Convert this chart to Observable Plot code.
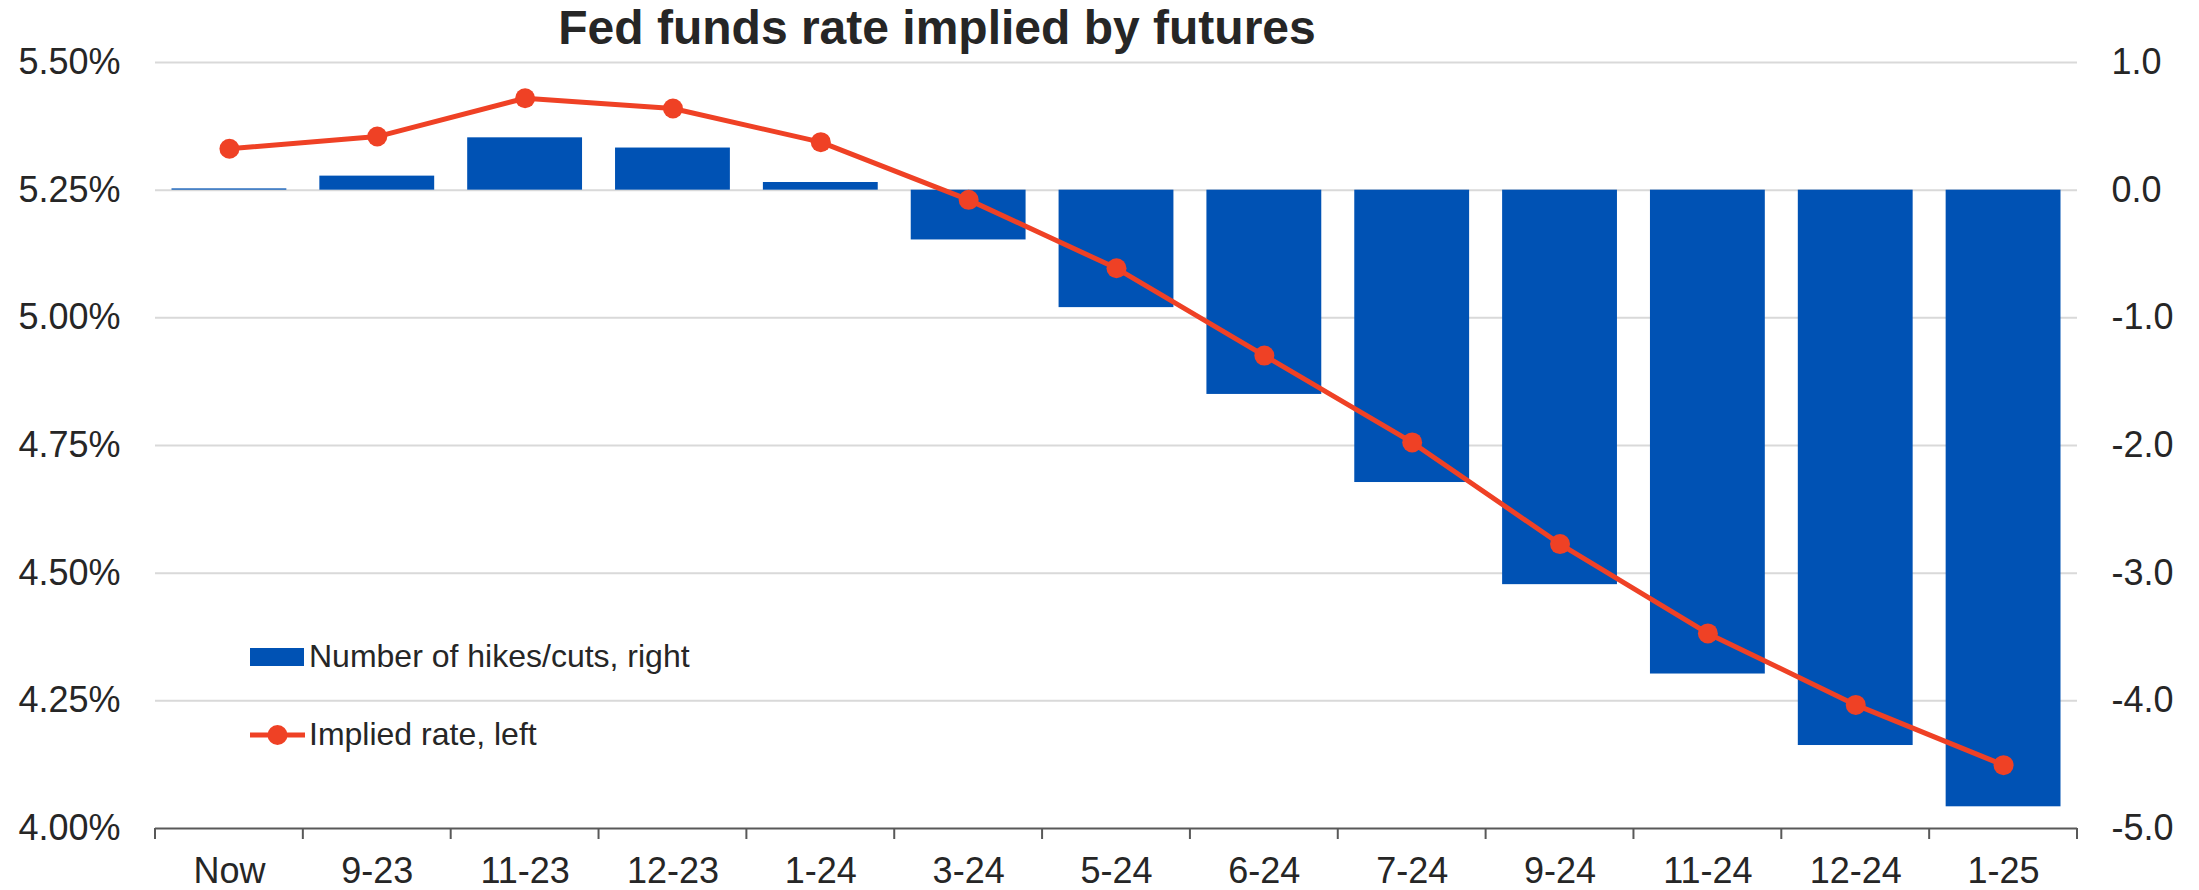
<!DOCTYPE html>
<html>
<head>
<meta charset="utf-8">
<script src="https://cdn.jsdelivr.net/npm/d3@7"></script>
<script src="https://cdn.jsdelivr.net/npm/@observablehq/plot@0.6"></script>
<style>
  body { margin: 0; background: #fff; font-family: "Liberation Sans", Arial, sans-serif; }
  #wrap { position: relative; width: 2199px; height: 890px; overflow: hidden; }
  #chart { position: absolute; left: 0; top: 0; }
  #title {
    position: absolute; left: 0; top: 0;
    width: 1874px; height: 56px; line-height: 56px; text-align: center;
    font-weight: bold; font-size: 48px; color: #262626; white-space: nowrap;
  }
  #legend { position: absolute; left: 0; top: 0; pointer-events: none; }
</style>
</head>
<body>
<div id="wrap">
  <div id="chart"></div>
  <div id="title">Fed funds rate implied by futures</div>
</div>
<script>
// Contract months along the x axis
const months = ["Now", "9-23", "11-23", "12-23", "1-24", "3-24", "5-24", "6-24", "7-24", "9-24", "11-24", "12-24", "1-25"];
// Implied fed funds rate, % (left axis)
const impliedRate = [5.331, 5.355, 5.430, 5.410, 5.344, 5.231, 5.097, 4.926, 4.756, 4.557, 4.382, 4.242, 4.124];
// Number of 25bp hikes (+) / cuts (-) priced in (right axis)
const hikesCuts = [0.01, 0.11, 0.41, 0.33, 0.06, -0.39, -0.92, -1.60, -2.29, -3.09, -3.79, -4.35, -4.83];
// Axis ticks
const leftTicks = [4.00, 4.25, 4.50, 4.75, 5.00, 5.25, 5.50];
const rightTicks = [-5, -4, -3, -2, -1, 0, 1];
// Right axis: 0 hikes sits at the current 5.25% level, one hike = 0.25pp
const rightZero = 5.25;
const rightStep = 0.25;
const toLeft = v => rightZero + v * rightStep;

const BAR = "#0052B4";
const LINE = "#EF4125";
const INK = "#262626";

const rows = months.map((m, i) => ({month: m, rate: impliedRate[i], hikes: hikesCuts[i]}));

// Tick marks at the boundaries between month bands, drawn below the baseline
function bandBoundaryTicks(index, scales, values, dimensions) {
  const x = scales.x;
  const step = x(months[1]) - x(months[0]);
  const y0 = dimensions.height - dimensions.marginBottom;
  const xs = months.map(m => x(m)).concat([x(months[months.length - 1]) + step]);
  const g = d3.create("svg:g");
  g.selectAll("line").data(xs).join("line")
    .attr("x1", d => d).attr("x2", d => d)
    .attr("y1", y0).attr("y2", y0 + 11)
    .attr("stroke", "#595959").attr("stroke-width", 2);
  return g.node();
}

const chart = Plot.plot({
  width: 2199,
  height: 890,
  marginTop: 62,
  marginBottom: 62,
  marginLeft: 155,
  marginRight: 122,
  style: {fontFamily: '"Liberation Sans", Arial, sans-serif', color: INK, background: "#fff"},
  x: {type: "band", domain: months, padding: 0, round: false},
  y: {domain: [4.0, 5.5]},
  marks: [
    Plot.ruleY(leftTicks.slice(1), {stroke: "#d9d9d9", strokeWidth: 2}),
    Plot.barY(rows, {
      x: "month",
      y1: () => rightZero,
      y2: d => toLeft(d.hikes),
      fill: BAR,
      insetLeft: 16.5,
      insetRight: 16.5
    }),
    Plot.ruleY([leftTicks[0]], {stroke: "#595959", strokeWidth: 2}),
    bandBoundaryTicks,
    Plot.line(rows, {x: "month", y: "rate", stroke: LINE, strokeWidth: 5}),
    Plot.dot(rows, {x: "month", y: "rate", r: 10, fill: LINE, stroke: "none"}),
    Plot.axisY(leftTicks, {
      anchor: "left", tickSize: 0, tickPadding: 35, fontSize: 36, fill: INK,
      tickFormat: d => d.toFixed(2) + "%", label: null
    }),
    Plot.axisY(rightTicks.map(toLeft), {
      anchor: "right", tickSize: 0, tickPadding: 34, fontSize: 36, fill: INK,
      tickFormat: d => ((d - rightZero) / rightStep).toFixed(1), label: null
    }),
    Plot.axisX({tickSize: 0, tickPadding: 29, fontSize: 36, fill: INK, label: null})
  ]
});
document.getElementById("chart").appendChild(chart);

// Legend inside the lower-left of the plot
const legendItems = [
  {label: "Number of hikes/cuts, right", kind: "bar"},
  {label: "Implied rate, left", kind: "line"}
];
const lg = d3.select("#wrap").append("svg").attr("id", "legend")
  .attr("width", 2199).attr("height", 890);
legendItems.forEach((it, i) => {
  const cy = 657 + i * 78;
  const g = lg.append("g");
  if (it.kind === "bar") {
    g.append("rect").attr("x", 250).attr("y", cy - 9).attr("width", 54).attr("height", 18).attr("fill", BAR);
  } else {
    g.append("line").attr("x1", 250).attr("x2", 305).attr("y1", cy).attr("y2", cy)
      .attr("stroke", LINE).attr("stroke-width", 5);
    g.append("circle").attr("cx", 277.5).attr("cy", cy).attr("r", 10).attr("fill", LINE);
  }
  g.append("text").attr("x", 309).attr("y", cy + 10)
    .attr("font-size", 32).attr("fill", INK)
    .attr("font-family", '"Liberation Sans", Arial, sans-serif')
    .text(it.label);
});
</script>
</body>
</html>
